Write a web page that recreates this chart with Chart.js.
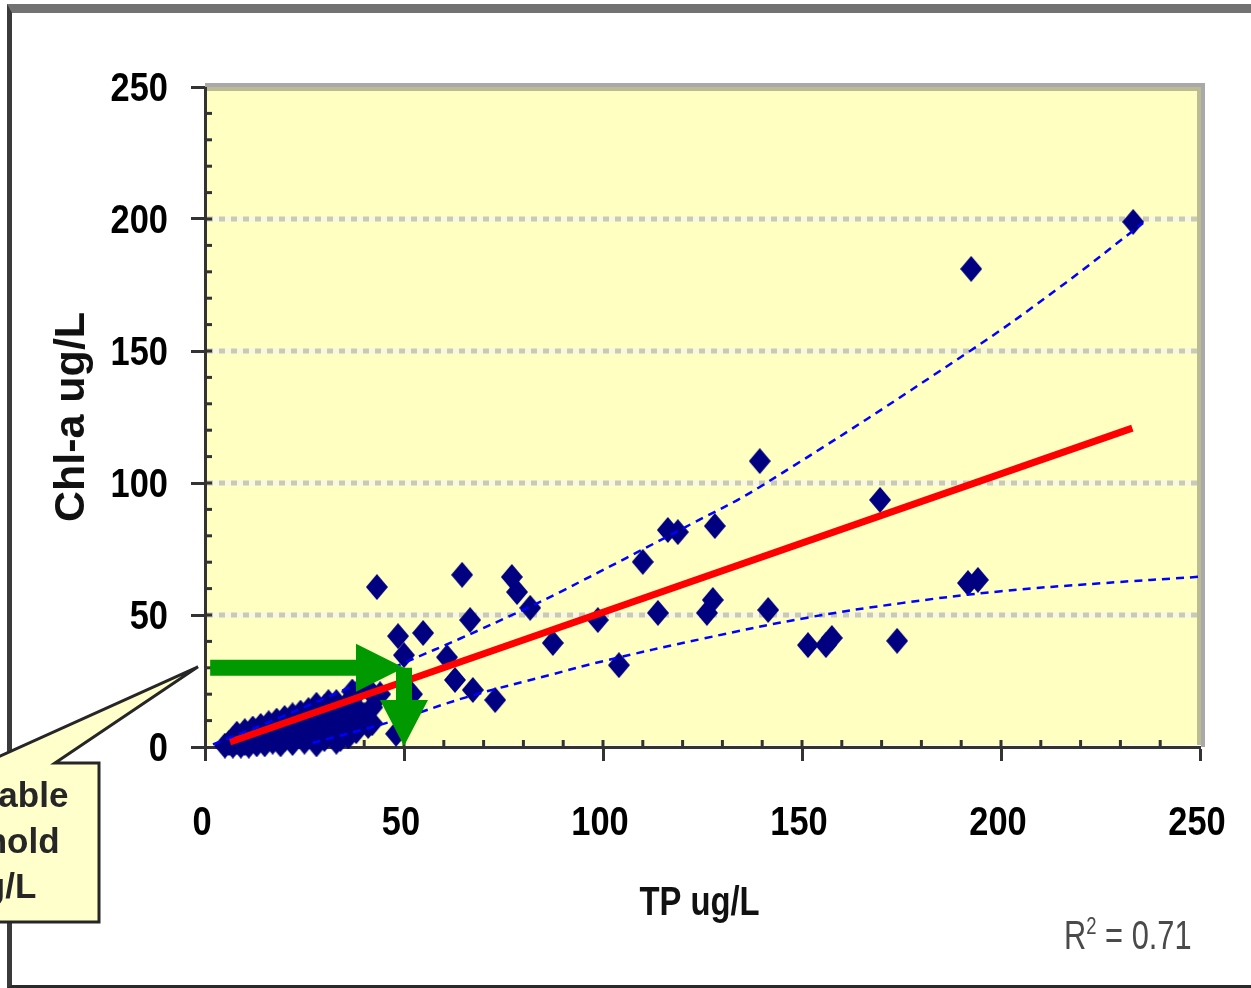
<!DOCTYPE html>
<html>
<head>
<meta charset="utf-8">
<script src="https://cdn.jsdelivr.net/npm/chart.js@4/dist/chart.umd.min.js"></script>
<style>
  html, body { margin: 0; padding: 0; background: #fff; }
  body { width: 1251px; height: 988px; position: relative; overflow: hidden; }
  #frame { position: absolute; left: 7px; top: 4px; width: 1300px; height: 984px; box-sizing: border-box;
    border-top: 9px solid #727272; border-left: 5px solid #3a3a3a; border-bottom: 3px solid #2a2a2a; }
  #chart { position: absolute; left: 0; top: 0; }
  #r2 { position: absolute; left: 1064px; top: 913px; line-height: 46px; color: #4a4a4a; white-space: nowrap;
    font: 40px 'Liberation Sans', Arial, sans-serif; transform: scaleX(0.77); transform-origin: 0 0; }
  #r2 sup { font-size: 24px; vertical-align: 15px; line-height: 0; }
</style>
</head>
<body>
<div id="frame"></div>
<canvas id="chart" width="1251" height="988"></canvas>
<div id="r2">R<sup>2</sup> = 0.71</div>
<script>
// TP (ug/L) and Chl-a (ug/L) of each sample
const tp = [5, 6, 7, 7, 8, 8, 9, 9, 10, 10, 11, 11, 12, 12, 13, 13, 14, 14, 15, 15,
  16, 16, 17, 17, 18, 18, 19, 19, 20, 20, 21, 21, 22, 22, 23, 23, 24, 24, 25, 25,
  26, 26, 27, 27, 28, 28, 29, 29, 30, 30, 31, 31, 32, 32, 33, 33, 34, 34, 35, 36,
  10, 14, 18, 22, 26, 30, 33, 35, 36, 38, 34, 36, 38,
  37, 39, 40, 41, 42, 42, 37, 38, 41, 44, 48, 52,
  43.2, 48.5, 50, 54.8, 60.8, 62.8, 67.3, 72.9, 64.6, 66.6, 77.1, 78.4, 81.7, 87.4,
  98.7, 104, 110, 113.8, 116.3, 118.8, 126.1, 127.6, 128.1, 139.4, 141.5,
  151.5, 156, 157.5, 169.6, 173.9, 191.7, 194.2, 192.5, 233.2];
const chl = [0.5, 1.5, 0.5, 3, 2, 5, 0.5, 3.5, 1.5, 6, 4, 0.5, 2.5, 7, 5, 1, 8, 3, 6, 1,
  4, 9, 2, 7, 10, 5, 1, 8, 3, 11, 6, 9, 1.5, 12, 4, 8, 13, 10, 2, 6,
  14, 11, 4, 8, 16, 1, 12, 6, 15, 3, 17, 9, 13, 5, 17, 2, 11, 7, 15, 4,
  3, 5.5, 8, 10, 8, 12, 14, 12, 17, 15, 3, 8, 6,
  15, 10, 12, 8, 15, 9, 21, 20, 22, 20, 5, 20,
  60.6, 42, 34.8, 43.2, 34, 25.4, 21.6, 17.8, 65.2, 48.1, 64.4, 58.7, 52.7, 39.4,
  48.1, 31, 70.1, 50.8, 82.2, 81.4, 50.8, 55.7, 83.7, 108.3, 51.9,
  38.6, 38.6, 41.3, 93.6, 40.2, 62.1, 63.3, 181.1, 198.9];

// fitted line and the two dashed bounds
const trendTp = [6.3, 233];
const trendChl = [1.9, 120.8];
const upperTp = [2, 17, 37, 51, 64, 80, 89.2, 122.6, 139.4, 192.2, 214.8, 235.7];
const upperChl = [1, 10, 23, 32.5, 41, 52, 58.7, 84.8, 98.5, 150, 174.2, 198.5];
const lowerTp = [27, 46.5, 66, 86.7, 100, 125, 151, 175, 200, 225, 250];
const lowerChl = [1.5, 9.5, 19, 27.3, 32.5, 41, 48.9, 54.5, 59, 62, 64.5];

// threshold marked by the green arrows
const arrowTp = [1.3, 50];
const arrowChl = [30, 0];

const axisTicks = [0, 50, 100, 150, 200, 250];
const calloutLines = ['Acceptable', 'Threshold', '30 ug/L'];
const xTitle = 'TP ug/L';

const sans = "'Liberation Sans', Arial, sans-serif";
const xy = (xs, ys) => xs.map((x, i) => ({ x, y: ys[i] }));

// tall navy diamond marker
const diamond = document.createElement('canvas');
diamond.width = 22;
diamond.height = 26;
const dc = diamond.getContext('2d');
dc.fillStyle = '#000080';
dc.beginPath();
dc.moveTo(11, 0); dc.lineTo(22, 13); dc.lineTo(11, 26); dc.lineTo(0, 13);
dc.closePath();
dc.fill();

// condensed text, like the squeezed fonts of the original picture
function narrowText(ctx, s, x, y, align, sx) {
  ctx.save();
  ctx.translate(x, y);
  ctx.scale(sx, 1);
  ctx.textAlign = align;
  ctx.fillText(s, 0, 0);
  ctx.restore();
}

const plotDecor = {
  id: 'plotDecor',
  beforeDatasetsDraw(chart) {
    const { ctx, chartArea: a, scales: { x, y } } = chart;
    ctx.save();
    ctx.fillStyle = '#ffffc2';
    ctx.fillRect(a.left + 2, a.top, a.right - a.left - 2, a.bottom - a.top - 2);
    // dotted grid lines
    ctx.lineWidth = 5;
    ctx.strokeStyle = '#f7f7e4';
    y.ticks.forEach((t) => {
      if (t.value <= 0 || t.value >= 250) return;
      const py = Math.round(y.getPixelForValue(t.value));
      ctx.beginPath(); ctx.moveTo(a.left + 2, py); ctx.lineTo(a.right, py); ctx.stroke();
    });
    ctx.setLineDash([6, 6]);
    ctx.strokeStyle = '#c9c9b6';
    y.ticks.forEach((t) => {
      if (t.value <= 0 || t.value >= 250) return;
      const py = Math.round(y.getPixelForValue(t.value));
      ctx.beginPath(); ctx.moveTo(a.left + 2, py); ctx.lineTo(a.right, py); ctx.stroke();
    });
    ctx.setLineDash([]);
    // minor ticks every 10
    ctx.strokeStyle = '#333';
    ctx.lineWidth = 3;
    for (let v = 10; v < 250; v += 10) {
      const py = y.getPixelForValue(v);
      ctx.beginPath(); ctx.moveTo(a.left, py); ctx.lineTo(a.left + 7, py); ctx.stroke();
      const px = x.getPixelForValue(v);
      ctx.beginPath(); ctx.moveTo(px, a.bottom); ctx.lineTo(px, a.bottom - 7); ctx.stroke();
    }
    // top and right edges of the plot area
    ctx.fillStyle = '#a9a9a9';
    ctx.fillRect(a.left, a.top - 4, a.right - a.left + 5, 4);
    ctx.fillRect(a.right + 1, a.top - 4, 4, a.bottom - a.top + 4);
    ctx.fillStyle = '#bcbc94';
    ctx.fillRect(a.left + 2, a.top, a.right - a.left - 1, 4);
    ctx.fillRect(a.right - 3, a.top, 4, a.bottom - a.top - 2);
    // tick labels and x title
    ctx.fillStyle = '#000';
    ctx.font = 'bold 40px ' + sans;
    ctx.textBaseline = 'alphabetic';
    y.ticks.forEach((t) => {
      narrowText(ctx, String(t.value), a.left - 37, y.getPixelForValue(t.value) + 14, 'right', 0.86);
    });
    x.ticks.forEach((t) => {
      narrowText(ctx, String(t.value), x.getPixelForValue(t.value) - 3, a.bottom + 88, 'center', 0.86);
    });
    ctx.fillStyle = '#111';
    narrowText(ctx, xTitle, (a.left + a.right) / 2 - 3, a.bottom + 168, 'center', 0.82);
    ctx.restore();
  },
  afterDraw(chart) {
    const { ctx, chartArea: a, scales: { x, y } } = chart;
    ctx.save();
    // green arrows
    const x0 = x.getPixelForValue(arrowTp[0]);
    const x1 = x.getPixelForValue(arrowTp[1]);
    const y0 = y.getPixelForValue(arrowChl[0]);
    const y1 = y.getPixelForValue(arrowChl[1]);
    ctx.fillStyle = '#009a00';
    ctx.beginPath();
    ctx.moveTo(x0, y0 - 8); ctx.lineTo(x1 - 48, y0 - 8); ctx.lineTo(x1 - 48, y0 - 24);
    ctx.lineTo(x1, y0); ctx.lineTo(x1 - 48, y0 + 24); ctx.lineTo(x1 - 48, y0 + 8);
    ctx.lineTo(x0, y0 + 8); ctx.closePath(); ctx.fill();
    ctx.beginPath();
    ctx.moveTo(x1 - 8, y0); ctx.lineTo(x1 + 8, y0); ctx.lineTo(x1 + 8, y1 - 47);
    ctx.lineTo(x1 + 24, y1 - 47); ctx.lineTo(x1, y1 - 1); ctx.lineTo(x1 - 24, y1 - 47);
    ctx.lineTo(x1 - 8, y1 - 47); ctx.closePath(); ctx.fill();
    // callout box pointing at the threshold
    const tipX = a.left - 7;
    const tipY = y0 - 1;
    const boxTop = 763, boxBottom = 922, boxRight = 99;
    ctx.fillStyle = '#ffffcc';
    ctx.strokeStyle = '#262626';
    ctx.lineWidth = 3;
    ctx.beginPath();
    ctx.moveTo(-30, boxTop); ctx.lineTo(-15, boxTop); ctx.lineTo(tipX, tipY);
    ctx.lineTo(55, boxTop); ctx.lineTo(boxRight, boxTop); ctx.lineTo(boxRight, boxBottom);
    ctx.lineTo(-30, boxBottom); ctx.closePath();
    ctx.fill(); ctx.stroke();
    ctx.fillStyle = '#262626';
    ctx.font = 'bold 35px ' + sans;
    ctx.textAlign = 'center';
    ctx.textBaseline = 'alphabetic';
    calloutLines.forEach((s, i) => ctx.fillText(s, -25, 807 + i * 45.5));
    ctx.restore();
  }
};

new Chart(document.getElementById('chart'), {
  type: 'scatter',
  data: {
    datasets: [
      { type: 'scatter', data: xy(tp, chl), pointStyle: diamond, pointRadius: 11,
        pointHoverRadius: 11, order: 3, clip: false },
      { type: 'line', data: xy(trendTp, trendChl), showLine: true, borderColor: '#ff0000',
        borderWidth: 7, pointRadius: 0, order: 2 },
      { type: 'line', data: xy(upperTp, upperChl), showLine: true, borderColor: '#0000ff',
        borderWidth: 2.5, borderDash: [8, 6], pointRadius: 0, tension: 0.4, order: 1 },
      { type: 'line', data: xy(lowerTp, lowerChl), showLine: true, borderColor: '#0000ff',
        borderWidth: 2.5, borderDash: [8, 6], pointRadius: 0, tension: 0.4, order: 1 }
    ]
  },
  options: {
    responsive: false,
    animation: false,
    devicePixelRatio: 1,
    events: [],
    layout: { padding: { top: 87, right: 51, left: 0, bottom: 0 } },
    plugins: { legend: { display: false }, tooltip: { enabled: false } },
    scales: {
      x: {
        type: 'linear', min: 0, max: 250,
        afterBuildTicks: (s) => { s.ticks = axisTicks.map((v) => ({ value: v })); },
        afterFit: (s) => { s.height = 241; s.paddingLeft = 0; s.paddingRight = 0; },
        ticks: { display: false },
        grid: { drawOnChartArea: false, tickLength: 14, tickColor: '#333', tickWidth: 3 },
        border: { color: '#333', width: 3 }
      },
      y: {
        type: 'linear', min: 0, max: 250,
        afterBuildTicks: (s) => { s.ticks = axisTicks.map((v) => ({ value: v })); },
        afterFit: (s) => { s.width = 205; s.paddingTop = 0; s.paddingBottom = 0; },
        ticks: { display: false },
        grid: { drawOnChartArea: false, tickLength: 14, tickColor: '#333', tickWidth: 3 },
        border: { color: '#333', width: 3 },
        title: { display: true, text: 'Chl-a ug/L', color: '#111', padding: { top: 46, bottom: 0 },
          font: { family: sans, size: 43, weight: 'bold' } }
      }
    }
  },
  plugins: [plotDecor]
});
</script>
</body>
</html>
